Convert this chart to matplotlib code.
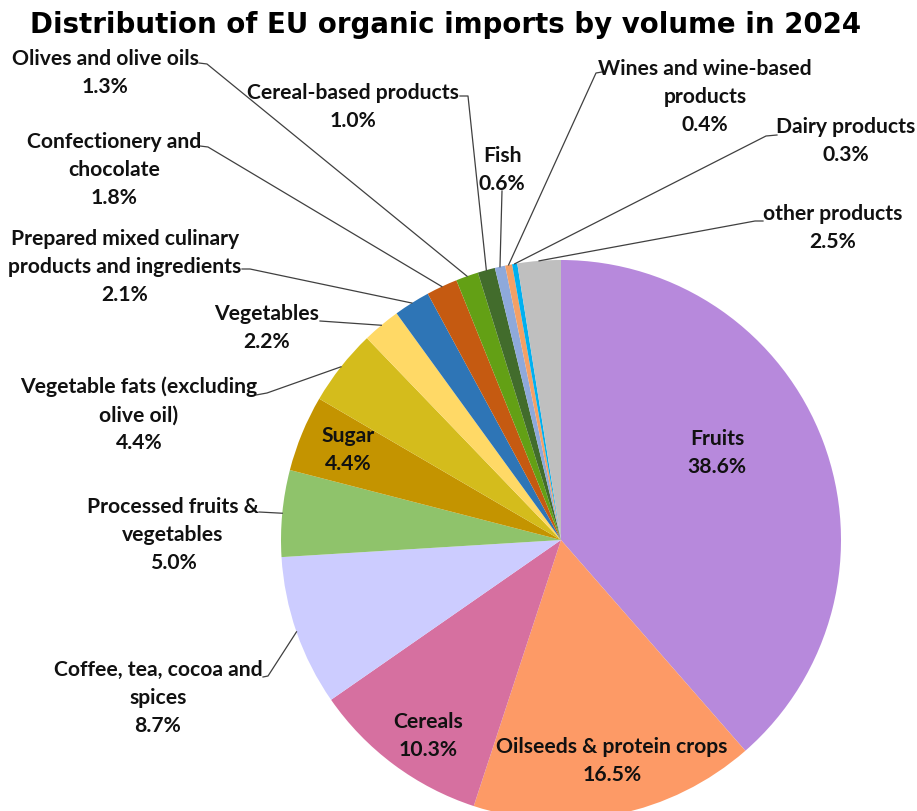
import numpy as np
import matplotlib
matplotlib.use("Agg")
import matplotlib.pyplot as plt

# shares of EU organic imports by volume, 2024 (%), clockwise from 12 o'clock
categories = ["Fruits", "Oilseeds & protein crops", "Cereals",
              "Coffee, tea, cocoa and\nspices", "Processed fruits &\nvegetables",
              "Sugar", "Vegetable fats (excluding\nolive oil)", "Vegetables",
              "Prepared mixed culinary\nproducts and ingredients",
              "Confectionery and\nchocolate", "Olives and olive oils",
              "Cereal-based products", "Fish", "Wines and wine-based\nproducts",
              "Dairy products", "other products"]
shares = [38.6, 16.5, 10.3, 8.7, 5.0, 4.4, 4.4, 2.2, 2.1, 1.8, 1.3, 1.0, 0.6, 0.4, 0.3, 2.5]
colors = ["#b789dc", "#fd9a66", "#d670a0", "#ccccff", "#8fc36b", "#c49400",
          "#d4bc1c", "#ffd966", "#2e75b6", "#c55a11", "#63a015", "#426c2c",
          "#8ea9db", "#f4a066", "#00b0f0", "#bfbfbf"]

W, H = 917, 812
CX, CY, R = 561, 541, 280

# label block centres (pixels from top-left) and leader line start points
label_pos = {
    0: (717, 453), 1: (612, 761), 2: (428, 736), 3: (158, 698),
    4: (173, 535), 5: (348, 450), 6: (139, 415), 7: (267, 328),
    8: (125, 267), 9: (114, 170), 10: (105, 73), 11: (353, 107),
    12: (502, 170), 13: (705, 97), 14: (846, 141), 15: (833, 228),
}
leaders = {
    3: [(263, 678), (268, 677)],
    4: [(259, 513)],
    6: [(256, 396), (267, 394)],
    7: [(320, 322)],
    8: [(242, 270), (250, 270)],
    9: [(200, 147), (208, 148)],
    10: [(199, 64), (207, 65)],
    11: [(460, 97), (468, 97)],
    12: [(502, 192)],
    13: [(602, 73), (596, 74)],
    14: [(777, 136), (766, 137)],
    15: [(763, 222), (755, 222)],
}

def fy(y):
    return H - y

fig = plt.figure(figsize=(W / 100, H / 100), dpi=100)
ax = fig.add_axes([0, 0, 1, 1])

wedges, _ = ax.pie(shares, colors=colors, startangle=90, counterclock=False,
                   center=(CX, fy(CY)), radius=R, frame=True,
                   wedgeprops=dict(linewidth=0))
ax.set_xlim(0, W)
ax.set_ylim(0, H)
ax.set_aspect("equal")
ax.axis("off")

for i, w in enumerate(wedges):
    x, y = label_pos[i]
    ax.text(x, fy(y), f"{categories[i]}\n{shares[i]:.1f}%", ha="center", va="center",
            multialignment="center", fontsize=15.2, fontweight="bold",
            family="Lato", color="#111111", linespacing=1.5)
    if i in leaders:
        ang = np.deg2rad((w.theta1 + w.theta2) / 2)
        ax_, ay_ = CX + R * np.cos(ang), fy(CY) + R * np.sin(ang)
        pts = [(px, fy(py)) for px, py in leaders[i]] + [(ax_, ay_)]
        xs, ys = zip(*pts)
        ax.plot(xs, ys, color="#404040", lw=0.9)

ax.text(446, fy(25), "Distribution of EU organic imports by volume in 2024",
        ha="center", va="center", fontsize=19.9, fontweight="bold",
        family="DejaVu Sans", color="black")

fig.savefig("out.png", dpi=100)
